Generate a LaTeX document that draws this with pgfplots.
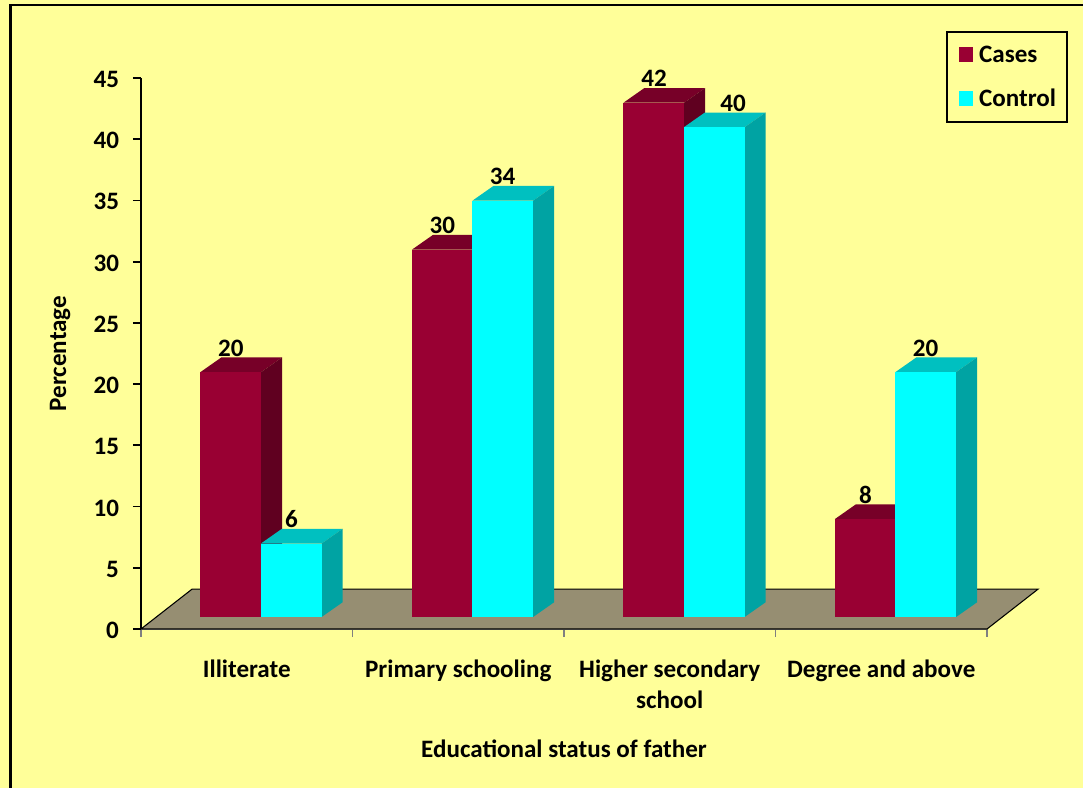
\documentclass[border=0pt]{standalone}
\usepackage{pgfplots}
\usepackage{pgfplotstable}
\usepackage{fontspec}
\pgfplotsset{compat=1.18}
\setmainfont{Carlito}

% one drawing unit: 1px = 0.75pt
\definecolor{paper}{HTML}{FFFF99}
\definecolor{floorc}{HTML}{968E72}
\definecolor{casesF}{HTML}{990033}
\definecolor{casesS}{HTML}{600020}
\definecolor{casesT}{HTML}{770028}
\definecolor{ctrlF}{HTML}{00FFFF}
\definecolor{ctrlS}{HTML}{00A3A3}
\definecolor{ctrlT}{HTML}{00C0C0}
\newcommand{\lbl}{\fontsize{18.8}{20}\selectfont\bfseries}

% value labels: x position, value
\pgfplotstableread{
lx    v
0.425 20
0.712 6
1.425 30
1.710 34
2.426 42
2.800 40
3.425 8
3.710 20
}\valuelabels

% solid bar: left edge, value, front, side and top colours
\newcommand{\solidbar}[5]{%
  \pgfmathsetmacro\xa{#1}%
  \pgfmathsetmacro\xb{#1+0.287}%
  \pgfmathsetmacro\xc{#1+0.099}%
  \pgfmathsetmacro\xd{#1+0.287+0.099}%
  \pgfmathsetmacro\ya{0.98}%
  \pgfmathsetmacro\yb{0.98+#2}%
  \pgfmathsetmacro\yc{0.98+1.2}%
  \pgfmathsetmacro\yd{0.98+#2+1.2}%
  \addplot[forget plot,fill=#5,draw=none] coordinates {(\xa,\yb) (\xb,\yb) (\xd,\yd) (\xc,\yd)} --cycle;
  \addplot[forget plot,fill=#4,draw=none] coordinates {(\xb,\ya) (\xd,\yc) (\xd,\yd) (\xb,\yb)} --cycle;
  \addplot[forget plot,fill=#3,draw=none] coordinates {(\xa,\ya) (\xb,\ya) (\xb,\yb) (\xa,\yb)} --cycle;
}

\begin{document}
\begin{tikzpicture}
\useasboundingbox (0,0) rectangle (812.25pt,591pt);
\fill[paper] (0,0) rectangle (812.25pt,591pt);
\draw[black,line width=1.9pt] (8pt,0) -- (8pt,587.2pt) -- (812.25pt,587.2pt);
\begin{axis}[
  at={(105.75pt,119.25pt)},anchor=south west,
  scale only axis,width=634.5pt,height=413.25pt,
  xmin=0,xmax=4,ymin=0,ymax=45,
  clip=false,
  axis x line=bottom,axis y line=left,
  axis line style={-,line width=1.8pt},
  x axis line style={line width=1pt,draw=gray!70},
  xtick={0,1,2,3,4},xticklabels={},
  ytick={0,5,...,45},
  x tick style={draw=gray,line width=1.2pt},
  y tick style={draw=black,line width=1.4pt},
  major tick length=6pt,
  tick align=outside,
  extra x ticks={0.5,1.5,2.5,3.5},
  extra x tick labels={Illiterate,Primary schooling,Higher secondary\\[3.2pt]school,Degree and above},
  extra x tick style={major tick length=0pt,
    xticklabel style={align=center,font=\lbl,yshift=-19.5pt}},
  tick label style={font=\lbl},
  yticklabel style={xshift=-7pt,yshift=-1pt},
  /pgf/number format/assume math mode=true,
  every axis x label/.style={at={(axis description cs:0.5,-0.218)},anchor=center},
  every axis y label/.style={at={(axis description cs:-0.0957,0.5)},anchor=center,rotate=90},
  xlabel={Educational status of father},ylabel={Percentage},
  label style={font=\lbl},
  legend style={at={(axis description cs:0.9515,1.0853)},anchor=north west,
    draw=black,line width=1.5pt,fill=none,font=\lbl,
    inner xsep=6.4pt,inner ysep=8.2pt,
    row sep=14.7pt,
    legend cell align=left},
  legend image code/.code={%
    \fill[#1] (2.25pt,-5.5pt) rectangle (12.75pt,5.5pt);
    \path (0pt,0pt) (15.75pt,0pt);},
]
% legend swatches
\addlegendimage{fill=casesF,draw=none}
\addlegendimage{fill=ctrlF,draw=none}

% floor of the chart
\addplot[forget plot,fill=floorc,draw=black,line width=0.8pt]
  coordinates {(0,0) (0.241,3.25) (4.241,3.25) (4,0)} --cycle;

% Illiterate
\solidbar{0.281}{20}{casesF}{casesS}{casesT}
\solidbar{0.567}{6}{ctrlF}{ctrlS}{ctrlT}
% Primary schooling
\solidbar{1.281}{30}{casesF}{casesS}{casesT}
\solidbar{1.567}{34}{ctrlF}{ctrlS}{ctrlT}
% Higher secondary school
\solidbar{2.281}{42}{casesF}{casesS}{casesT}
\solidbar{2.567}{40}{ctrlF}{ctrlS}{ctrlT}
% Degree and above
\solidbar{3.281}{8}{casesF}{casesS}{casesT}
\solidbar{3.567}{20}{ctrlF}{ctrlS}{ctrlT}

% value labels above the bars
\addplot[forget plot,draw=none,mark=none,
  nodes near coords,point meta=explicit symbolic,
  every node near coord/.style={anchor=center,font=\lbl,inner sep=0pt,text=black}]
  table[x=lx,y expr=\thisrow{v}+2.94,meta=v] {\valuelabels};

\legend{Cases,Control}
\end{axis}
\end{tikzpicture}
\end{document}
